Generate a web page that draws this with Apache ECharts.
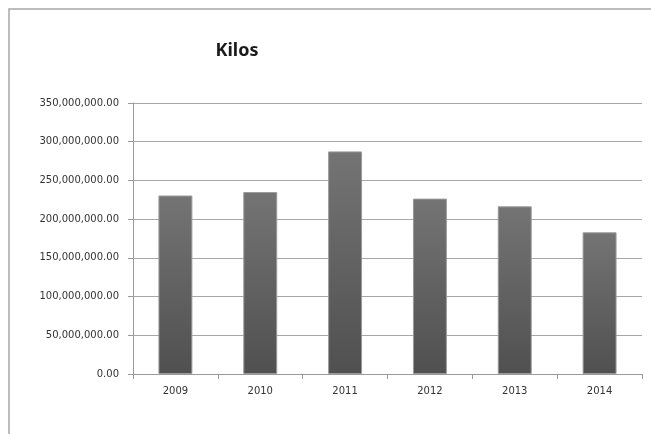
<!DOCTYPE html>
<html>
<head>
<meta charset="utf-8">
<script src="https://cdn.jsdelivr.net/npm/echarts@6/dist/echarts.min.js"></script>
<style>html,body{margin:0;padding:0;background:#fff}#c{width:651px;height:434px}</style>
</head>
<body>
<div id="c"></div>
<script>
const categories = ['2009', '2010', '2011', '2012', '2013', '2014'];
const kilos = [230500000, 235000000, 287500000, 226500000, 216500000, 183000000];
const yMin = 0, yMax = 350000000, yStep = 50000000;
const titleText = 'Kilos';

function fmt(v) {
  const s = Math.round(v).toString().replace(/\B(?=(\d{3})+(?!\d))/g, ',');
  return s + '.00';
}

const chart = echarts.init(document.getElementById('c'), null, {renderer: 'canvas'});
chart.setOption({
  animation: false,
  backgroundColor: '#ffffff',
  title: {
    text: titleText,
    left: 232,
    top: 37,
    textAlign: 'center',
    textStyle: {fontFamily: 'Noto Sans', fontWeight: 'bold', fontSize: 18, color: '#1a1a1a'}
  },
  graphic: [{
    type: 'polyline',
    shape: {points: [[9, 434], [9, 9], [651, 9]]},
    style: {fill: 'none', stroke: '#a8a8a8', lineWidth: 1.5},
    silent: true
  }],
  grid: {left: 133, right: 9, top: 103, bottom: 60},
  xAxis: {
    type: 'category',
    data: categories,
    boundaryGap: true,
    axisLine: {show: true, lineStyle: {color: '#9a9a9a', width: 1}},
    axisTick: {show: true, alignWithLabel: false, length: 5, lineStyle: {color: '#9a9a9a'}},
    axisLabel: {margin: 12, fontFamily: 'DejaVu Sans', fontSize: 10, color: '#333'},
    splitLine: {show: false}
  },
  yAxis: {
    type: 'value',
    min: yMin,
    max: yMax,
    interval: yStep,
    axisLine: {show: true, lineStyle: {color: '#9a9a9a', width: 1}},
    axisTick: {show: true, length: 5, lineStyle: {color: '#9a9a9a'}},
    axisLabel: {margin: 14, fontFamily: 'DejaVu Sans', fontSize: 10, color: '#333', formatter: fmt},
    splitLine: {show: true, lineStyle: {color: '#a6a6a6', width: 1}}
  },
  series: [{
    type: 'bar',
    data: kilos,
    barWidth: '40%',
    itemStyle: {
      color: new echarts.graphic.LinearGradient(0, 0, 0, 1, [
        {offset: 0, color: '#747474'},
        {offset: 1, color: '#505050'}
      ]),
      borderColor: '#9a9a9a',
      borderWidth: 1
    }
  }]
});
</script>
</body>
</html>
